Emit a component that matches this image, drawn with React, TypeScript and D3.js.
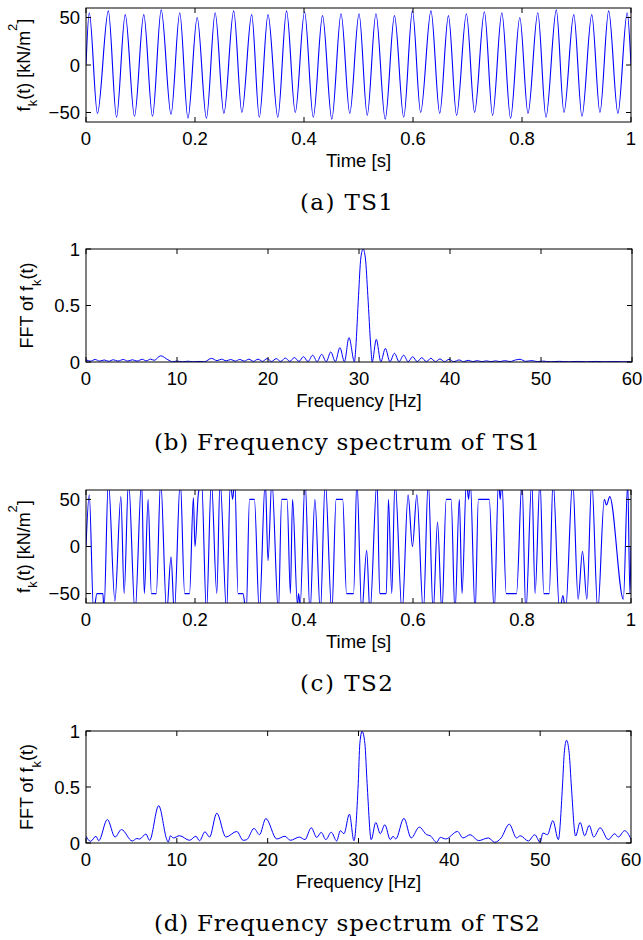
import React from "react";
import * as d3 from "d3";

// ---------- TS1 (time [s], force [kN/m^2]) ----------
const ts1Time = [0, 0.006, 0.021, 0.041, 0.056, 0.072, 0.089, 0.106, 0.122, 0.138, 0.156, 0.172, 0.187, 0.204, 0.221, 0.237, 0.253, 0.271, 0.286, 0.304, 0.318, 0.334, 0.352, 0.368, 0.384, 0.401, 0.417, 0.434, 0.451, 0.468, 0.484, 0.501, 0.516, 0.532, 0.549, 0.566, 0.583, 0.599, 0.614, 0.633, 0.649, 0.665, 0.68, 0.698, 0.713, 0.731, 0.746, 0.763, 0.779, 0.796, 0.811, 0.829, 0.844, 0.863, 0.877, 0.895, 0.91, 0.928, 0.943, 0.959, 0.976, 0.993, 1.0];
const ts1Value = [0, 55, -51, 57, -55, 53, -54, 53, -54, 58, -52, 55, -56, 50, -56, 55, -51, 57, -50, 53, -55, 53, -55, 57, -50, 56, -55, 52, -57, 54, -51, 54, -53, 54, -57, 52, -55, 57, -50, 57, -51, 52, -53, 54, -50, 56, -53, 55, -56, 50, -51, 55, -55, 58, -50, 53, -54, 53, -50, 57, -51, 55, 0];

// ---------- TS2 ----------
const ts2Time = [0, 0.006, 0.014, 0.02, 0.031, 0.033, 0.041, 0.053, 0.064, 0.07, 0.078, 0.09, 0.102, 0.107, 0.114, 0.12, 0.129, 0.137, 0.148, 0.156, 0.162, 0.173, 0.181, 0.19, 0.197, 0.2, 0.206, 0.212, 0.221, 0.23, 0.24, 0.246, 0.258, 0.265, 0.269, 0.273, 0.279, 0.288, 0.294, 0.3, 0.309, 0.318, 0.329, 0.334, 0.341, 0.353, 0.359, 0.369, 0.375, 0.379, 0.388, 0.39, 0.393, 0.402, 0.411, 0.42, 0.43, 0.439, 0.451, 0.459, 0.471, 0.478, 0.491, 0.497, 0.506, 0.515, 0.521, 0.534, 0.539, 0.551, 0.555, 0.561, 0.567, 0.58, 0.591, 0.599, 0.607, 0.619, 0.628, 0.637, 0.645, 0.653, 0.661, 0.67, 0.677, 0.685, 0.69, 0.698, 0.702, 0.705, 0.714, 0.72, 0.74, 0.749, 0.757, 0.76, 0.763, 0.771, 0.79, 0.8, 0.807, 0.818, 0.824, 0.833, 0.84, 0.85, 0.857, 0.869, 0.875, 0.88, 0.893, 0.903, 0.911, 0.919, 0.928, 0.939, 0.951, 0.955, 0.961, 0.986, 0.994, 0.998, 1.0];
const ts2Value = [0, 55, -70, -50, -50, -68, 70, -58, 53, -50, 70, -70, 70, -50, 50, -50, -50, 70, -70, -11, -70, 70, -50, -50, 52, 0, 55, 70, -70, 70, -50, 70, -70, 70, 50, 70, -50, -50, -70, 50, 50, -70, 70, -15, 70, -70, 50, 50, -50, 50, -62, -50, -62, 70, -70, 50, -70, 70, -70, 50, 50, -50, -50, 70, -70, -4, -70, 70, -50, -50, 50, -50, 70, -70, 55, 0, 55, -70, 70, -70, 26, -70, 50, 50, -70, 50, -50, 70, 50, 70, -70, 50, 50, -70, 70, 50, 70, -50, -50, 70, -70, 70, -50, 70, -50, -50, 70, -70, -52, -68, 70, -56, -5, -56, 70, -68, 50, 44, 53, -56, 68, -50, 0];

// ---------- FFT of TS1 ----------
const fft1Freq = [0, 0.5, 1.0, 1.5, 2.0, 2.5, 3.0, 3.5, 4.1, 4.6, 5.1, 5.6, 6.2, 6.6, 7.1, 7.5, 8.2, 9.0, 9.5, 10.0, 10.6, 11.2, 11.8, 12.4, 13.0, 13.8, 14.4, 14.9, 15.4, 15.9, 16.4, 16.9, 17.4, 17.9, 18.4, 18.9, 19.4, 19.9, 20.4, 20.9, 21.4, 21.9, 22.4, 22.9, 23.4, 23.9, 24.4, 24.9, 25.4, 25.9, 26.4, 26.9, 27.4, 27.9, 28.4, 28.9, 29.5, 29.65, 29.95, 30.2, 30.45, 30.7, 30.97, 31.3, 31.45, 31.9, 32.4, 32.9, 33.4, 33.9, 34.4, 34.9, 35.4, 35.9, 36.4, 36.9, 37.4, 37.9, 38.4, 38.9, 39.4, 39.9, 40.4, 41.0, 41.5, 42.0, 42.5, 43.0, 43.5, 44.0, 44.5, 45.0, 45.5, 46.0, 46.6, 47.2, 47.7, 48.3, 49.0, 49.6, 50.2, 51, 52, 53, 54, 55, 56, 57, 58, 59, 60];
const fft1Amp = [0.02, 0.008, 0.022, 0.008, 0.018, 0.006, 0.02, 0.008, 0.022, 0.008, 0.02, 0.008, 0.024, 0.01, 0.025, 0.015, 0.055, 0.02, 0.003, 0.008, 0.002, 0.007, 0.002, 0.005, 0.002, 0.032, 0.012, 0.025, 0.01, 0.022, 0.008, 0.022, 0.008, 0.025, 0.006, 0.025, 0.006, 0.03, 0.005, 0.03, 0.005, 0.035, 0.005, 0.04, 0.005, 0.047, 0.004, 0.06, 0.004, 0.068, 0.003, 0.089, 0.003, 0.127, 0.003, 0.216, 0.002, 0.13, 0.59, 0.92, 1.0, 0.92, 0.59, 0.13, 0.002, 0.2, 0.003, 0.12, 0.003, 0.077, 0.003, 0.06, 0.003, 0.047, 0.003, 0.038, 0.003, 0.033, 0.003, 0.027, 0.003, 0.024, 0.003, 0.018, 0.003, 0.015, 0.003, 0.012, 0.003, 0.01, 0.003, 0.01, 0.003, 0.012, 0.004, 0.018, 0.024, 0.006, 0.012, 0.003, 0.008, 0.002, 0.006, 0.002, 0.005, 0.002, 0.005, 0.002, 0.004, 0.002, 0.003];

// ---------- FFT of TS2 ----------
const fft2Freq = [0, 0.5, 1.1, 1.4, 2.35, 3.2, 3.9, 5.1, 5.6, 5.9, 6.6, 7.0, 8.0, 8.9, 9.05, 9.3, 9.6, 10.3, 11.4, 12.1, 12.5, 13.1, 13.6, 14.4, 15.4, 16.6, 17.3, 17.7, 18.5, 19.1, 19.8, 21.0, 21.9, 22.5, 23.5, 24.1, 24.8, 25.4, 25.9, 26.4, 27.0, 27.6, 28.0, 28.4, 29.0, 29.5, 29.97, 30.15, 30.4, 30.7, 30.95, 31.4, 31.9, 32.4, 32.9, 33.5, 33.8, 34.1, 35.0, 35.8, 36.7, 37.5, 37.9, 38.6, 39.0, 39.6, 40.9, 41.5, 42.3, 43.2, 44.3, 45.0, 45.7, 46.6, 47.4, 47.8, 48.7, 49.4, 50.0, 50.3, 50.8, 51.4, 52.0, 52.45, 52.65, 52.9, 53.2, 53.44, 53.9, 54.4, 54.9, 55.4, 55.9, 56.6, 57.5, 58.2, 58.6, 59.3, 60];
const fft2Amp = [0.06, 0.015, 0.06, 0.02, 0.21, 0.053, 0.12, 0.018, 0.04, 0.035, 0.08, 0.024, 0.333, 0.03, 0.008, 0.065, 0.045, 0.065, 0.024, 0.06, 0.02, 0.1, 0.053, 0.266, 0.053, 0.103, 0.024, 0.03, 0.13, 0.074, 0.218, 0.036, 0.06, 0.024, 0.053, 0.03, 0.136, 0.05, 0.095, 0.03, 0.096, 0.018, 0.11, 0.083, 0.257, 0.02, 0.53, 0.89, 0.997, 0.89, 0.53, 0.03, 0.183, 0.083, 0.163, 0.03, 0.06, 0.036, 0.22, 0.045, 0.142, 0.074, 0.065, 0.006, 0.05, 0.036, 0.103, 0.045, 0.074, 0.021, 0.045, 0.006, 0.045, 0.168, 0.045, 0.065, 0.018, 0.074, 0.006, 0.089, 0.074, 0.2, 0.03, 0.5, 0.8, 0.917, 0.8, 0.5, 0.062, 0.183, 0.065, 0.157, 0.053, 0.136, 0.03, 0.083, 0.053, 0.11, 0.036];

// ---------- ticks & labels ----------
const timeTicks = [0, 0.2, 0.4, 0.6, 0.8, 1];
const timeTickLabels = ["0", "0.2", "0.4", "0.6", "0.8", "1"];
const forceTicks = [-50, 0, 50];
const forceTickLabels = ["\u221250", "0", "50"];
const freqTicks = [0, 10, 20, 30, 40, 50, 60];
const freqTickLabels = ["0", "10", "20", "30", "40", "50", "60"];
const ampTicks = [0, 0.5, 1];
const ampTickLabels = ["0", "0.5", "1"];
const captions = ["(a) TS1", "(b) Frequency spectrum of TS1", "(c) TS2", "(d) Frequency spectrum of TS2"];

const SANS = "'Liberation Sans', Arial, Helvetica, sans-serif";
const SERIF = "'DejaVu Serif', 'Liberation Serif', serif";

type PanelProps = {
  id: string;
  left: number; right: number; top: number; bottom: number;
  xDomain: [number, number]; yDomain: [number, number];
  xTicks: number[]; xTickLabels: string[];
  yTicks: number[]; yTickLabels: string[];
  xs: number[]; ys: number[];
  xLabel: string; yKind: "force" | "fft";
  yLabelX: number;
  caption: string; captionX: number; captionLen: number;
  lineWidth: number;
};

function Panel(p: PanelProps) {
  const x = d3.scaleLinear().domain(p.xDomain).range([p.left, p.right]);
  const y = d3.scaleLinear().domain(p.yDomain).range([p.bottom, p.top]);
  const line = d3
    .line<number>()
    .x((_, i) => x(p.xs[i]))
    .y((d) => y(d))
    .curve(d3.curveMonotoneX);
  const cy = (p.top + p.bottom) / 2;
  const cx = (p.left + p.right) / 2;
  const tick = 5;
  return (
    <g>
      <defs>
        <clipPath id={p.id}>
          <rect x={p.left} y={p.top} width={p.right - p.left} height={p.bottom - p.top} />
        </clipPath>
      </defs>
      <path d={line(p.ys) || ""} fill="none" stroke="#0000ff" strokeWidth={p.lineWidth} clipPath={`url(#${p.id})`} />
      <rect x={p.left} y={p.top} width={p.right - p.left} height={p.bottom - p.top} fill="none" stroke="#000" strokeWidth={1} />
      {p.xTicks.map((t, i) => (
        <g key={"x" + i}>
          <line x1={x(t)} x2={x(t)} y1={p.bottom} y2={p.bottom - tick} stroke="#000" />
          <line x1={x(t)} x2={x(t)} y1={p.top} y2={p.top + tick} stroke="#000" />
          <text x={x(t)} y={p.bottom + 23} textAnchor="middle" fontFamily={SANS} fontSize={18.5}>
            {p.xTickLabels[i]}
          </text>
        </g>
      ))}
      {p.yTicks.map((t, i) => (
        <g key={"y" + i}>
          <line x1={p.left} x2={p.left + tick} y1={y(t)} y2={y(t)} stroke="#000" />
          <line x1={p.right} x2={p.right - tick} y1={y(t)} y2={y(t)} stroke="#000" />
          <text x={p.left - 6} y={y(t) + 6.5} textAnchor="end" fontFamily={SANS} fontSize={18.5}>
            {p.yTickLabels[i]}
          </text>
        </g>
      ))}
      <text x={cx} y={p.bottom + 44.5} textAnchor="middle" fontFamily={SANS} fontSize={18.5}>
        {p.xLabel}
      </text>
      <text transform={`translate(${p.yLabelX},${cy}) rotate(-90)`} textAnchor="middle" fontFamily={SANS} fontSize={18}>
        {p.yKind === "force" ? (
          <>
            f<tspan dy={7} fontSize={13}>k</tspan>
            <tspan dy={-7}>(t) [kN/m</tspan>
            <tspan dy={-13} fontSize={13}>2</tspan>
            <tspan dy={13}>]</tspan>
          </>
        ) : (
          <>
            FFT of f<tspan dy={8} fontSize={13}>k</tspan>
            <tspan dy={-8}>(t)</tspan>
          </>
        )}
      </text>
      <text x={p.captionX} y={p.bottom + 88} fontFamily={SERIF} fontSize={23} textLength={p.captionLen} lengthAdjust="spacing">
        {p.caption}
      </text>
    </g>
  );
}

export default function App() {
  return (
    <svg width={643} height={940} style={{ position: "absolute", left: 0, top: 0, background: "#fff" }}>
      <rect x={0} y={0} width={643} height={940} fill="#fff" />
      <Panel id="c1" left={86} right={631} top={8} bottom={122} xDomain={[0, 1]} yDomain={[-60, 60]}
        xTicks={timeTicks} xTickLabels={timeTickLabels} yTicks={forceTicks} yTickLabels={forceTickLabels}
        xs={ts1Time} ys={ts1Value} xLabel="Time [s]" yKind="force" yLabelX={30}
        caption={captions[0]} captionX={300} captionLen={93} lineWidth={1.1} />
      <Panel id="c2" left={86} right={632} top={249} bottom={362} xDomain={[0, 60]} yDomain={[0, 1]}
        xTicks={freqTicks} xTickLabels={freqTickLabels} yTicks={ampTicks} yTickLabels={ampTickLabels}
        xs={fft1Freq} ys={fft1Amp} xLabel="Frequency [Hz]" yKind="fft" yLabelX={33}
        caption={captions[1]} captionX={154} captionLen={386} lineWidth={1} />
      <Panel id="c3" left={86} right={631} top={490} bottom={603} xDomain={[0, 1]} yDomain={[-60, 60]}
        xTicks={timeTicks} xTickLabels={timeTickLabels} yTicks={forceTicks} yTickLabels={forceTickLabels}
        xs={ts2Time} ys={ts2Value} xLabel="Time [s]" yKind="force" yLabelX={30}
        caption={captions[2]} captionX={300} captionLen={93} lineWidth={1.1} />
      <Panel id="c4" left={86} right={631} top={731} bottom={843} xDomain={[0, 60]} yDomain={[0, 1]}
        xTicks={freqTicks} xTickLabels={freqTickLabels} yTicks={ampTicks} yTickLabels={ampTickLabels}
        xs={fft2Freq} ys={fft2Amp} xLabel="Frequency [Hz]" yKind="fft" yLabelX={33}
        caption={captions[3]} captionX={154} captionLen={386} lineWidth={1} />
    </svg>
  );
}
